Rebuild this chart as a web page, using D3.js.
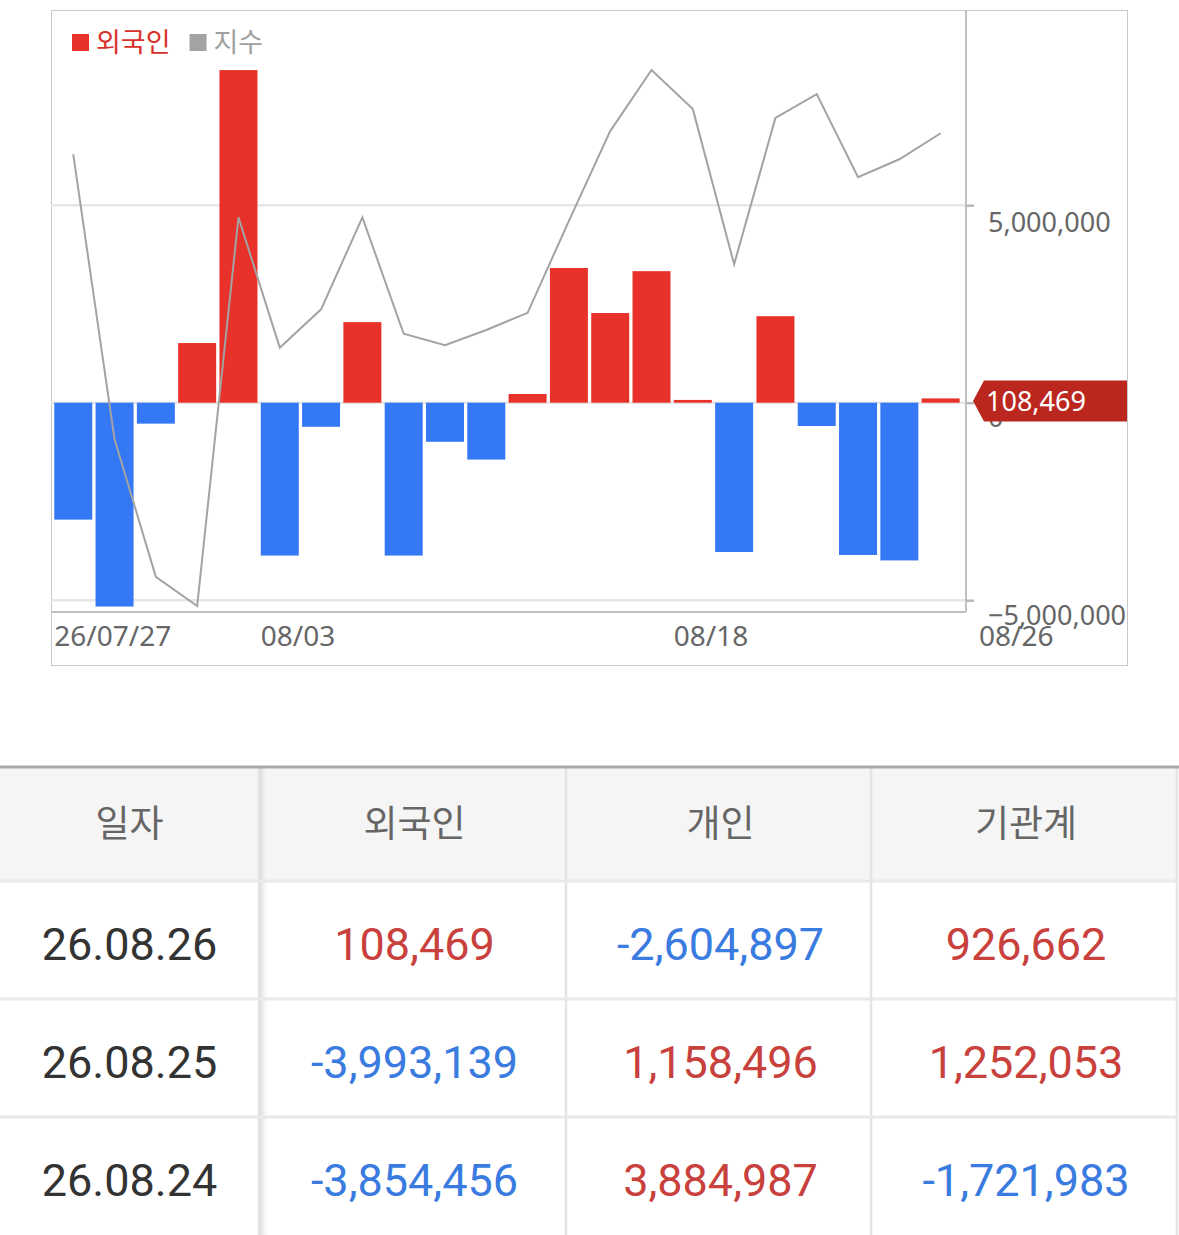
<!DOCTYPE html>
<html><head><meta charset="utf-8">
<script src="https://cdn.jsdelivr.net/npm/d3@7/dist/d3.min.js"></script>
<style>
html,body{margin:0;padding:0;background:#fff;}
svg{display:block;}
</style></head>
<body>
<svg id="c" width="1179" height="1235"></svg>
<script>
// ---- data ----
const dates = ["07/27","07/28","07/29","07/30","07/31","08/03","08/04","08/05","08/06","08/07","08/10","08/11","08/12","08/13","08/14","08/18","08/19","08/20","08/21","08/24","08/25","08/26"];
const foreign = [-2960000,-5160000,-530000,1510000,8420000,-3870000,-610000,2040000,-3870000,-990000,-1440000,220000,3410000,2270000,3330000,70000,-3780000,2190000,-590000,-3854456,-3993139,108469];
const indexVals = [2668.5,2562.2,2510.9,2500.0,2645.0,2596.4,2610.7,2645.0,2601.6,2597.3,2603.0,2609.4,2643.7,2677.2,2700.0,2685.4,2627.5,2682.1,2691.0,2660.0,2666.7,2676.4];
const xTickLabels = [{d:"07/27",t:"26/07/27"},{d:"08/03",t:"08/03"},{d:"08/18",t:"08/18"}];
const lastLabel = "08/26";
const yTicks = [5000000, 0, -5000000];
const legendItems = [{name:"외국인", color:"#e73129"},{name:"지수", color:"#a3a3a3"}];

const tableHeader = ["일자","외국인","개인","기관계"];
const tableDates = ["26.08.26","26.08.25","26.08.24"];
const tableForeign = [108469,-3993139,-3854456];
const tableIndividual = [-2604897,1158496,3884987];
const tableInstitution = [926662,1252053,-1721983];

// ---- chart ----
const svg = d3.select("#c");
const RED = "#e73129", BLUE = "#3478f6";
const x = d3.scaleBand().domain(dates).range([52.6, 961.3]).paddingInner(0.08).paddingOuter(0.04);
const y = d3.scaleLinear().domain([-5000000, 5000000]).range([600.2, 205.2]);
const yIdx = d3.scaleLinear().domain([2500, 2700]).range([606, 70]);
const plotL = 51, plotR = 966, plotT = 10, plotB = 612;

// outer frame
svg.append("rect").attr("x",51.5).attr("y",10.5).attr("width",1076).attr("height",655)
  .attr("fill","none").attr("stroke","#c8c8c8").attr("stroke-width",1);

// gridlines
svg.append("g").selectAll("line").data(yTicks).join("line")
  .attr("x1",plotL).attr("x2",plotR).attr("y1",d=>y(d)).attr("y2",d=>y(d))
  .attr("stroke","#e6e6e6").attr("stroke-width",2.5);

// bars
svg.append("g").selectAll("rect").data(foreign).join("rect")
  .attr("x",(d,i)=>x(dates[i]))
  .attr("width",x.bandwidth())
  .attr("y",d=>d>=0?y(d):y(0))
  .attr("height",d=>Math.max(2,Math.abs(y(d)-y(0))))
  .attr("fill",d=>d>=0?RED:BLUE);

// index line
svg.append("path").datum(indexVals)
  .attr("d", d3.line().x((d,i)=>x(dates[i])+x.bandwidth()/2).y(d=>yIdx(d)))
  .attr("fill","none").attr("stroke","#a3a3a3").attr("stroke-width",2);

// axes lines
svg.append("line").attr("x1",plotR).attr("x2",plotR).attr("y1",plotT).attr("y2",plotB)
  .attr("stroke","#c0c0c0").attr("stroke-width",2);
svg.append("line").attr("x1",plotL).attr("x2",plotR).attr("y1",plotB).attr("y2",plotB)
  .attr("stroke","#c0c0c0").attr("stroke-width",2);

// right axis via d3
const yAxis = d3.axisRight(y).tickValues(yTicks).tickSize(8).tickPadding(14)
  .tickFormat(d=>d3.format(",")(d));
const ga = svg.append("g").attr("transform",`translate(${plotR},0)`).call(yAxis);
ga.select(".domain").remove();
ga.selectAll(".tick line").attr("stroke","#b8b8b8").attr("stroke-width",2.5);
ga.selectAll(".tick text").attr("fill","#666").style("font-family","'Noto Sans',sans-serif").style("font-size","27px")
  .attr("dy",(d)=> d===5000000 ? "26px" : (d===0 ? "24px" : "24px"));

// value tag
const last = foreign[foreign.length-1];
const ty = y(last)+2.5;
const tagX = plotR+7, tagH = 41;
svg.append("path")
  .attr("d",`M${tagX},${ty} L${tagX+11},${ty-tagH/2} L1127,${ty-tagH/2} L1127,${ty+tagH/2} L${tagX+11},${ty+tagH/2} Z`)
  .attr("fill","#bb271f");
svg.append("text").attr("x",tagX+13).attr("y",ty).attr("dy","0.36em")
  .attr("fill","#fff").style("font-family","'Noto Sans',sans-serif").style("font-size","27px")
  .text(d3.format(",")(last));

// x labels
const xl = svg.append("g").style("font-family","'Noto Sans',sans-serif").style("font-size","28px").attr("fill","#666");
xl.selectAll("text").data(xTickLabels).join("text")
  .attr("x",d=>x(d.d)).attr("y",636).attr("dy","0.36em").text(d=>d.t);
xl.append("text").attr("x",plotR+13).attr("y",636).attr("dy","0.36em").text(lastLabel);

// legend
const lg = svg.append("g");
let lx = 72;
legendItems.forEach(it=>{
  lg.append("rect").attr("x",lx).attr("y",34).attr("width",17).attr("height",17).attr("fill",it.color);
  const t = lg.append("text").attr("x",lx+24).attr("y",42).attr("dy","0.36em").attr("fill",it.color==="#e73129"?"#d9302a":"#a0a0a0")
    .style("font-family","'Noto Sans CJK KR',sans-serif").style("font-size","27px").text(it.name);
  lx += 24 + t.node().getComputedTextLength() + 19;
});

// ---- table ----
const colEdges = [0,259,566,871,1177];
const tTop = 767, headH = 114, rowH = 118;
const defs = svg.append("defs");
const gr = defs.append("linearGradient").attr("id","sh").attr("x1","0").attr("x2","1");
gr.append("stop").attr("offset","0").attr("stop-color","#d8d8d8").attr("stop-opacity",0.9);
gr.append("stop").attr("offset","1").attr("stop-color","#ffffff").attr("stop-opacity",0);

const tg = svg.append("g");
tg.append("rect").attr("x",0).attr("y",tTop).attr("width",1177).attr("height",headH).attr("fill","#f5f5f5");
tg.append("rect").attr("x",colEdges[1]+1).attr("y",tTop).attr("width",10).attr("height",1235-tTop).attr("fill","url(#sh)");
tg.selectAll("line.v").data(colEdges.slice(1)).join("line").attr("class","v")
  .attr("x1",d=>d).attr("x2",d=>d).attr("y1",tTop).attr("y2",1235)
  .attr("stroke","#e4e4e4").attr("stroke-width",2.5);
const hLines = [tTop+headH, tTop+headH+rowH, tTop+headH+2*rowH];
tg.selectAll("line.h").data(hLines).join("line").attr("class","h")
  .attr("x1",0).attr("x2",1177).attr("y1",d=>d).attr("y2",d=>d)
  .attr("stroke","#e9e9e9").attr("stroke-width",3);
tg.append("line").attr("x1",0).attr("x2",1179).attr("y1",tTop).attr("y2",tTop)
  .attr("stroke","#aaaaaa").attr("stroke-width",3);

const cx = i => (colEdges[i]+colEdges[i+1])/2;
tg.selectAll("text.h").data(tableHeader).join("text").attr("class","h")
  .attr("x",(d,i)=>cx(i)+(i===0?0:2)).attr("y",tTop+headH/2).attr("dy","0.36em").attr("text-anchor","middle")
  .attr("fill","#666").style("font-family","'Noto Sans CJK KR',sans-serif").style("font-size","37px").text(d=>d);

const fmt = d3.format(",");
const col = v => v>=0 ? "#c8413c" : "#3a7be0";
tableDates.forEach((dt,r)=>{
  const yy = tTop+headH+rowH*r+rowH/2+4;
  const vals = [tableForeign[r], tableIndividual[r], tableInstitution[r]];
  tg.append("text").attr("x",cx(0)).attr("y",yy).attr("dy","0.36em").attr("text-anchor","middle")
    .attr("fill","#333").style("font-family","Roboto,sans-serif").style("font-size","45px").text(dt);
  vals.forEach((v,j)=>{
    tg.append("text").attr("x",cx(j+1)+2).attr("y",yy).attr("dy","0.36em").attr("text-anchor","middle")
      .attr("fill",col(v)).style("font-family","Roboto,sans-serif").style("font-size","45px").text(fmt(v).replace("−","-"));
  });
});
</script>
</body></html>
